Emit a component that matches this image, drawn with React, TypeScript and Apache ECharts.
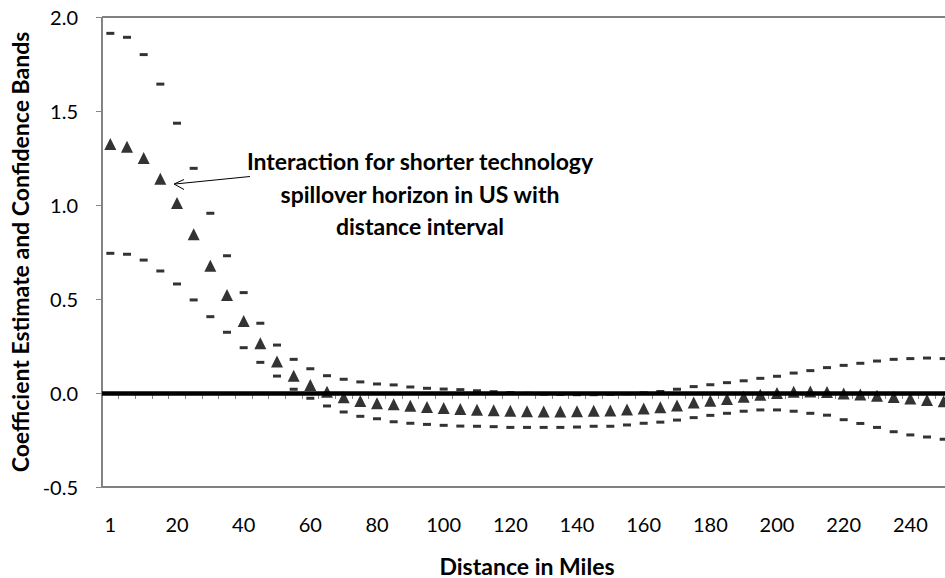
import React, { useEffect, useRef } from "react";
import * as echarts from "echarts";

const xCategories = [
  "1", "5", "10", "15", "20", "25", "30", "35", "40", "45",
  "50", "55", "60", "65", "70", "75", "80", "85", "90", "95",
  "100", "105", "110", "115", "120", "125", "130", "135", "140", "145",
  "150", "155", "160", "165", "170", "175", "180", "185", "190", "195",
  "200", "205", "210", "215", "220", "225", "230", "235", "240", "245",
  "250",
];

const estimate = [
  1.324, 1.31, 1.25, 1.14, 1.01, 0.844, 0.677, 0.521, 0.383, 0.264,
  0.167, 0.092, 0.043, 0.007, -0.023, -0.043, -0.055, -0.06, -0.068, -0.075,
  -0.08, -0.085, -0.089, -0.092, -0.095, -0.097, -0.098, -0.098, -0.097, -0.095,
  -0.093, -0.088, -0.083, -0.076, -0.066, -0.051, -0.041, -0.032, -0.02, -0.009,
  0.0, 0.006, 0.008, 0.005, -0.002, -0.008, -0.014, -0.021, -0.029, -0.037,
  -0.044,
];

const upperBand = [
  1.913, 1.892, 1.8, 1.643, 1.435, 1.195, 0.956, 0.73, 0.534, 0.371,
  0.255, 0.179, 0.129, 0.092, 0.073, 0.059, 0.048, 0.043, 0.032, 0.025,
  0.021, 0.018, 0.012, 0.007, 0.002, -0.002, -0.006, -0.008, -0.009, -0.009,
  -0.007, -0.004, 0.001, 0.008, 0.02, 0.034, 0.044, 0.055, 0.065, 0.078,
  0.089, 0.106, 0.119, 0.135, 0.147, 0.158, 0.17, 0.179, 0.183, 0.186,
  0.183,
];

const lowerBand = [
  0.743, 0.738, 0.707, 0.649, 0.58, 0.495, 0.406, 0.323, 0.241, 0.163,
  0.09, 0.02, -0.028, -0.069, -0.101, -0.124, -0.137, -0.153, -0.161, -0.167,
  -0.172, -0.176, -0.177, -0.179, -0.183, -0.183, -0.183, -0.183, -0.181, -0.177,
  -0.177, -0.17, -0.161, -0.155, -0.144, -0.131, -0.119, -0.108, -0.097, -0.09,
  -0.09, -0.097, -0.108, -0.118, -0.142, -0.162, -0.183, -0.206, -0.223, -0.234,
  -0.246,
];

const yTicks = { min: -0.5, max: 2.0, interval: 0.5 };

const annotationLines = [
  "Interaction for shorter technology",
  "spillover horizon in US with",
  "distance interval",
];

const xTitle = "Distance in Miles";
const yTitle = "Coefficient Estimate and Confidence Bands";

const FONT = "Lato, 'Open Sans', sans-serif";

export default function App() {
  const ref = useRef<HTMLDivElement>(null);

  useEffect(() => {
    if (!ref.current) return;
    const chart = echarts.init(ref.current, null, { renderer: "svg" });
    const option: any = {
      animation: false,
      backgroundColor: "#ffffff",
      textStyle: { fontFamily: FONT },
      grid: {
        left: 102,
        right: 8,
        top: 17,
        bottom: 91,
        containLabel: false,
        outerBoundsMode: "none",
        show: true,
        borderColor: "#000000",
        borderWidth: 1,
        backgroundColor: "transparent",
      },
      xAxis: {
        type: "category",
        data: xCategories,
        boundaryGap: true,
        name: xTitle,
        nameLocation: "middle",
        nameGap: 67,
        nameTextStyle: { fontSize: 23, fontWeight: "bold", color: "#000", fontFamily: FONT },
        axisLine: { show: true, lineStyle: { color: "#868686", width: 1 } },
        axisTick: { show: true, interval: 0, length: 6, inside: false, lineStyle: { color: "#868686" } },
        axisLabel: { interval: 3, fontSize: 20, color: "#000", margin: 27, fontFamily: FONT },
        splitLine: { show: false },
      },
      yAxis: {
        type: "value",
        min: yTicks.min,
        max: yTicks.max,
        interval: yTicks.interval,
        name: yTitle,
        nameLocation: "middle",
        nameGap: 44,
        nameTextStyle: { fontSize: 23, fontWeight: "bold", color: "#000", fontFamily: FONT },
        axisLine: { show: true, lineStyle: { color: "#868686", width: 1 } },
        axisTick: { show: true, length: 6, inside: false, lineStyle: { color: "#868686" } },
        axisLabel: {
          fontSize: 20,
          color: "#000",
          margin: 24,
          fontFamily: FONT,
          formatter: (v: number) => v.toFixed(1),
        },
        splitLine: { show: false },
      },
      series: [
        {
          name: "Upper band",
          type: "scatter",
          data: upperBand,
          symbol: "rect",
          symbolSize: [8, 3],
          itemStyle: { color: "#000" },
          z: 3,
        },
        {
          name: "Lower band",
          type: "scatter",
          data: lowerBand,
          symbol: "rect",
          symbolSize: [8, 3],
          itemStyle: { color: "#000" },
          z: 3,
        },
        {
          name: "Estimate",
          type: "scatter",
          data: estimate,
          symbol: "triangle",
          symbolSize: 12,
          itemStyle: { color: "#000" },
          z: 4,
          markLine: {
            silent: true,
            symbol: "none",
            label: { show: false },
            lineStyle: { color: "#000", width: 4.5, type: "solid" },
            data: [{ yAxis: 0 }],
            z: 2,
          },
        },
      ],
      graphic: [
        ...annotationLines.map((t, i) => ({
          type: "text",
          x: 420,
          y: 161 + i * 32.5,
          style: {
            text: t,
            fontSize: 23,
            fontWeight: "bold",
            fontFamily: FONT,
            fill: "#000",
            align: "center",
            verticalAlign: "middle",
          },
          z: 10,
        })),
        {
          type: "line",
          shape: { x1: 250, y1: 176.5, x2: 175, y2: 184 },
          style: { stroke: "#000", lineWidth: 1 },
          z: 10,
        },
        {
          type: "polyline",
          shape: { points: [[184, 179.5], [174, 184], [184, 189.5]] },
          style: { stroke: "#000", lineWidth: 1, fill: null },
          z: 10,
        },
      ],
    };
    chart.setOption(option);
    return () => chart.dispose();
  }, []);

  return (
    <div
      style={{
        position: "fixed",
        left: 0,
        top: 0,
        width: 945,
        height: 578,
        overflow: "hidden",
        background: "#fff",
      }}
    >
      <div ref={ref} style={{ width: 960, height: 578 }} />
    </div>
  );
}
